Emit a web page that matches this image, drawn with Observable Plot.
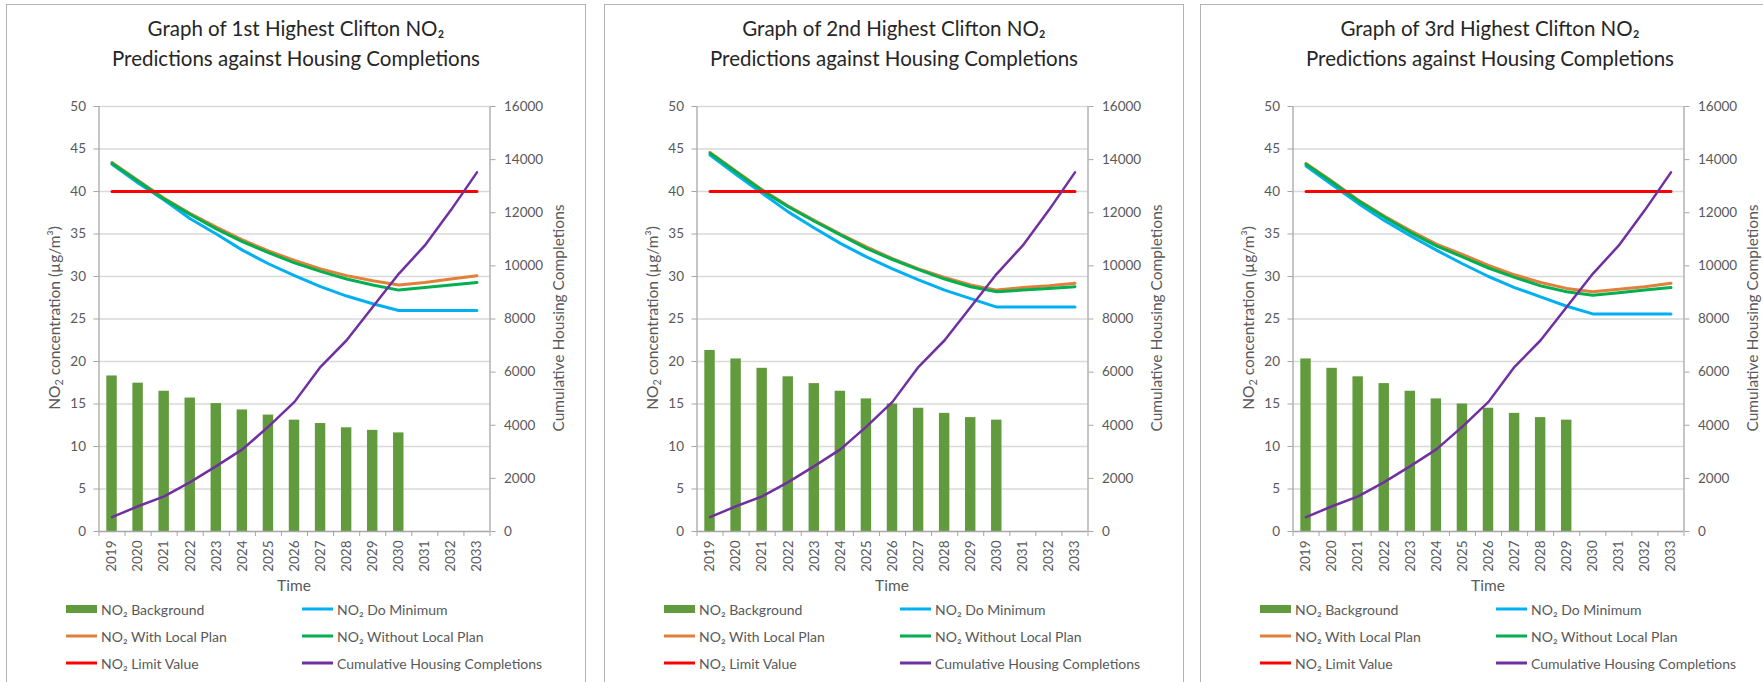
<!DOCTYPE html>
<html><head><meta charset="utf-8">
<script src="https://cdn.jsdelivr.net/npm/d3@7"></script>
<script src="https://cdn.jsdelivr.net/npm/@observablehq/plot@0.6"></script>
<style>
body{margin:0;background:#fff;width:1763px;height:682px;overflow:hidden;position:relative;font-family:Lato,"Open Sans",sans-serif;}
.panel{position:absolute;top:4px;width:580px;height:720px;border:1px solid #b4b4b4;box-sizing:border-box;}
.title{position:absolute;width:580px;text-align:center;font-size:20.5px;color:#262626;line-height:30px;top:13px;}
.abs{position:absolute;white-space:nowrap;color:#595959;font-size:15.5px;}
.rot{transform:translate(-50%,-50%) rotate(-90deg);}
.ctr{transform:translate(-50%,-50%);}
.leg{position:absolute;white-space:nowrap;color:#595959;font-size:14px;transform:translateY(-50%);}
.sw{position:absolute;transform:translateY(-50%);}
svg{position:absolute;overflow:visible;}
sub{font-size:70%;vertical-align:-0.25em;line-height:0;}
</style>
</head><body>
<script>
// ---- data ----
const years = [2019,2020,2021,2022,2023,2024,2025,2026,2027,2028,2029,2030,2031,2032,2033];
const titles = [
  ["Graph of 1st Highest Clifton NO₂","Predictions against Housing Completions"],
  ["Graph of 2nd Highest Clifton NO₂","Predictions against Housing Completions"],
  ["Graph of 3rd Highest Clifton NO₂","Predictions against Housing Completions"]
];
const background1 = [18.3,17.45,16.5,15.7,15.05,14.3,13.7,13.1,12.7,12.2,11.9,11.6];
const background2 = [21.3,20.3,19.2,18.2,17.4,16.5,15.6,15.0,14.5,13.9,13.4,13.1];
const background3 = [20.3,19.2,18.2,17.4,16.5,15.6,15.0,14.5,13.9,13.4,13.1];
const doMinimum1 = [43.2,41.0,39.0,36.8,35.0,33.1,31.5,30.1,28.8,27.7,26.8,26.0,26.0,26.0,26.0];
const doMinimum2 = [44.3,42.0,39.8,37.6,35.7,33.9,32.3,30.9,29.6,28.4,27.4,26.4,26.4,26.4,26.4];
const doMinimum3 = [43.0,40.8,38.6,36.6,34.8,33.1,31.5,30.0,28.7,27.6,26.5,25.6,25.6,25.6,25.6];
const withPlan1 = [43.4,41.3,39.2,37.4,35.8,34.3,33.0,31.9,30.9,30.1,29.5,29.0,29.3,29.7,30.1];
const withPlan2 = [44.6,42.4,40.2,38.3,36.6,35.0,33.5,32.1,30.9,29.9,29.0,28.4,28.7,28.9,29.2];
const withPlan3 = [43.3,41.2,39.0,37.1,35.4,33.8,32.6,31.3,30.2,29.3,28.6,28.2,28.5,28.8,29.2];
const withoutPlan1 = [43.3,41.2,39.1,37.3,35.6,34.1,32.8,31.6,30.6,29.7,29.0,28.4,28.7,29.0,29.3];
const withoutPlan2 = [44.5,42.3,40.1,38.2,36.5,34.9,33.3,32.0,30.8,29.7,28.8,28.2,28.4,28.6,28.8];
const withoutPlan3 = [43.2,41.1,38.9,37.0,35.2,33.6,32.3,31.0,29.9,28.9,28.2,27.8,28.1,28.4,28.7];
const limitValue = [40,40,40,40,40,40,40,40,40,40,40,40,40,40,40];
const housing = [540,950,1320,1860,2460,3090,3950,4880,6200,7200,8450,9700,10770,12100,13520];
const leftTicks = [0,5,10,15,20,25,30,35,40,45,50];
const rightTicks = [0,2000,4000,6000,8000,10000,12000,14000,16000];
const Y_MAX = 50, H_MAX = 16000;

const backgrounds = [background1, background2, background3];
const doMinimums = [doMinimum1, doMinimum2, doMinimum3];
const withPlans = [withPlan1, withPlan2, withPlan3];
const withoutPlans = [withoutPlan1, withoutPlan2, withoutPlan3];

const C = {bar:"#629a3e", blue:"#00b0f0", orange:"#e0803a", green:"#00b050", red:"#ff0000", purple:"#7030a0", axis:"#a6a6a6", grid:"#d9d9d9", text:"#595959"};
const legendItems = [
  {label:"NO₂ Background", color:C.bar, bar:true},
  {label:"NO₂ Do Minimum", color:C.blue},
  {label:"NO₂ With Local Plan", color:C.orange},
  {label:"NO₂ Without Local Plan", color:C.green},
  {label:"NO₂ Limit Value", color:C.red},
  {label:"Cumulative Housing Completions", color:C.purple}
];
const panelX = [6, 604, 1200];

function el(cls, html, style){const d=document.createElement("div");d.className=cls;d.innerHTML=html;Object.assign(d.style,style);document.body.appendChild(d);return d;}

const toPrimary = h => h * Y_MAX / H_MAX;
const series = arr => years.slice(0, arr.length).map((year,i)=>({year, v: arr[i]}));

panelX.forEach((ox, k) => {
  el("panel","",{left: ox+"px"});
  el("title", titles[k].join("<br>"), {left: ox+"px"});

  const svg = Plot.plot({
    width: 580, height: 510,
    marginLeft: 92.5, marginRight: 96.5, marginTop: 16, marginBottom: 69,
    x: {type:"linear", domain:[2018.5, 2033.5]},
    y: {domain:[0, Y_MAX]},
    style: {fontFamily:"Lato, 'Open Sans', sans-serif", fontSize:"13.5px", color:C.text, background:"transparent", overflow:"visible"},
    marks: [
      Plot.gridY(leftTicks.filter(d=>d>0), {stroke:C.grid, strokeOpacity:1, strokeWidth:1.3}),
      Plot.rectY(series(backgrounds[k]), {x1: d=>d.year-0.2, x2: d=>d.year+0.2, y:"v", fill:C.bar}),
      Plot.line(series(doMinimums[k]), {x:"year", y:"v", stroke:C.blue, strokeWidth:3, strokeLinejoin:"round"}),
      Plot.line(series(withPlans[k]), {x:"year", y:"v", stroke:C.orange, strokeWidth:3, strokeLinejoin:"round"}),
      Plot.line(series(withoutPlans[k]), {x:"year", y:"v", stroke:C.green, strokeWidth:3, strokeLinejoin:"round"}),
      Plot.line(series(limitValue), {x:"year", y:"v", stroke:C.red, strokeWidth:3}),
      Plot.line(series(housing), {x:"year", y: d=>toPrimary(d.v), stroke:C.purple, strokeWidth:2.5, strokeLinejoin:"round"}),
      Plot.ruleY([0], {stroke:C.axis, strokeWidth:1.3}),
      Plot.ruleX([2018.5, 2033.5], {stroke:C.axis, strokeWidth:1.3}),
      Plot.axisY(leftTicks, {anchor:"left", tickSize:5, tickPadding:8, stroke:C.axis, fill:C.text, label:null}),
      Plot.axisY(rightTicks.map(toPrimary), {anchor:"right", tickSize:5, tickPadding:9, stroke:C.axis, fill:C.text, label:null,
        tickFormat: d => String(Math.round(d * H_MAX / Y_MAX))}),
      Plot.axisX(years, {anchor:"bottom", tickSize:0, tickPadding:9, tickRotate:-90, fill:C.text, label:null, tickFormat: d=>String(d)}),
      Plot.axisX(d3.range(2018.5, 2034, 1), {anchor:"bottom", tickSize:5, stroke:C.axis, label:null, tickFormat: ()=>""})
    ]
  });
  svg.style.left = ox + "px";
  svg.style.top = "90px";
  document.body.appendChild(svg);

  el("abs rot", "NO<sub>2</sub> concentration (µg/m³)", {left:(ox+47.5)+"px", top:"318px"});
  el("abs rot", "Cumulative Housing Completions", {left:(ox+552)+"px", top:"318px"});
  el("abs ctr", "Time", {left:(ox+288)+"px", top:"585px"});

  legendItems.forEach((it, i) => {
    const col = i % 2, row = Math.floor(i / 2);
    const cy = [609, 636, 663][row];
    const sx = ox + (col ? 296 : 60);
    const sw = document.createElement("div");
    sw.className = "sw";
    Object.assign(sw.style, {left: sx+"px", top: cy+"px", width:"31px", height: it.bar ? "8px" : "3px", background: it.color});
    document.body.appendChild(sw);
    el("leg", it.label, {left: (sx+35)+"px", top: cy+"px"});
  });
});
</script>
</body></html>
